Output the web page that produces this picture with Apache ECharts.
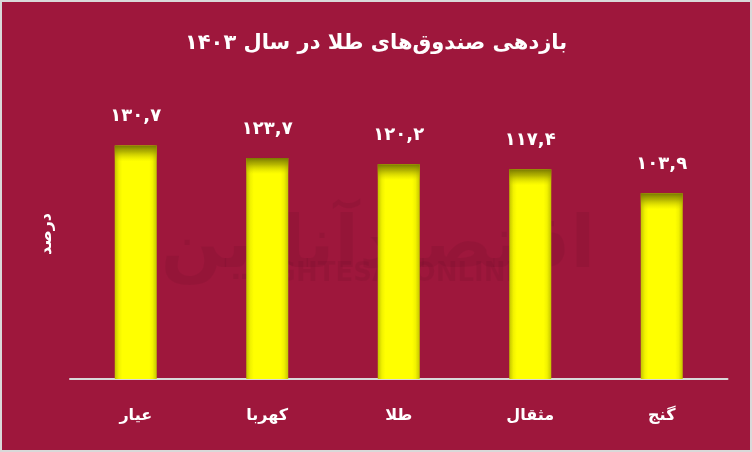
<!DOCTYPE html>
<html><head><meta charset="utf-8">
<script src="https://cdn.jsdelivr.net/npm/echarts@6/dist/echarts.min.js"></script>
<style>html,body{margin:0;padding:0;background:#9E173C;}#c{width:752px;height:452px;}</style>
</head><body><div id="c"></div>
<script>
var categories = ['عیار', 'کهربا', 'طلا', 'مثقال', 'گنج'];
var values = [130.7, 123.7, 120.2, 117.4, 103.9];
var titleText = 'بازدهی صندوق‌های طلا در سال ۱۴۰۳';
var axisName = 'درصد';

function toFa(v) {
  var d = '۰۱۲۳۴۵۶۷۸۹';
  return v.toFixed(1).replace(/[0-9]/g, function (c) { return d[+c]; }).replace('.', ',');
}
var FONT = 'DejaVu Sans';
var chart = echarts.init(document.getElementById('c'), null, {renderer: 'canvas'});
var yMax = 150;
var gridTop = 111, gridBottom = 73;
var plotH = 452 - gridTop - gridBottom;

var bodyColor = new echarts.graphic.LinearGradient(0, 0, 1, 0, [
  {offset: 0, color: '#c4c400'}, {offset: 0.1, color: '#f2f200'}, {offset: 0.18, color: '#ffff00'},
  {offset: 0.82, color: '#ffff00'}, {offset: 0.9, color: '#f2f200'}, {offset: 1, color: '#c4c400'}
]);
function topShade(v) {
  var f = 16 / (v / yMax * plotH);
  return new echarts.graphic.LinearGradient(0, 0, 0, 1, [
    {offset: 0, color: 'rgba(120,120,0,1)'},
    {offset: f * 0.4, color: 'rgba(150,150,0,0.7)'},
    {offset: f, color: 'rgba(200,200,0,0)'},
    {offset: 1, color: 'rgba(200,200,0,0)'}
  ]);
}

chart.setOption({
  backgroundColor: '#9E173C',
  animation: false,
  title: {
    text: titleText, left: 'center', top: 28,
    textStyle: {color: '#ffffff', fontFamily: FONT, fontWeight: 'bold', fontSize: 21}
  },
  grid: {left: 70, right: 24.5, top: gridTop, bottom: gridBottom},
  xAxis: {
    type: 'category', data: categories,
    axisLine: {lineStyle: {color: '#D9D9D9', width: 2}},
    axisTick: {show: false},
    axisLabel: {color: '#ffffff', fontFamily: FONT, fontWeight: 'bold', fontSize: 16, margin: 29}
  },
  yAxis: {
    type: 'value', min: 0, max: yMax, show: false, splitLine: {show: false}
  },
  graphic: [
    {type: 'rect', z: 100, silent: true, shape: {x: 1, y: 1, width: 750, height: 450},
     style: {fill: 'none', stroke: '#D9D9D9', lineWidth: 2}},
    {type: 'text', z: 100, x: 47, y: 234, rotation: Math.PI / 2,
     style: {text: axisName, fill: '#ffffff', font: 'bold 16px "DejaVu Sans"', align: 'center', verticalAlign: 'middle'}},
    {type: 'text', z: 0, zlevel: 0, x: 378, y: 248, silent: true,
     style: {text: 'اقتصادآنلاین', fill: 'rgba(0,0,0,0.05)', font: 'bold 72px "DejaVu Sans"', align: 'center', verticalAlign: 'middle'}},
    {type: 'text', z: 0, zlevel: 0, x: 390, y: 274, silent: true,
     style: {text: 'EGHTESADONLINE', fill: 'rgba(0,0,0,0.05)', font: 'bold 26px "DejaVu Sans"', align: 'center', verticalAlign: 'middle'}}
  ],
  series: [
    {
      type: 'bar', data: values, barWidth: 42, z: 2,
      itemStyle: {color: bodyColor},
      label: {
        show: true, position: 'top', distance: 20, color: '#ffffff',
        fontFamily: FONT, fontWeight: 'bold', fontSize: 18,
        formatter: function (p) { return toFa(p.value); }
      }
    },
    {
      type: 'bar', barGap: '-100%', barWidth: 42, z: 3, silent: true,
      data: values.map(function (v) { return {value: v, itemStyle: {color: topShade(v)}}; })
    }
  ]
});
</script></body></html>
